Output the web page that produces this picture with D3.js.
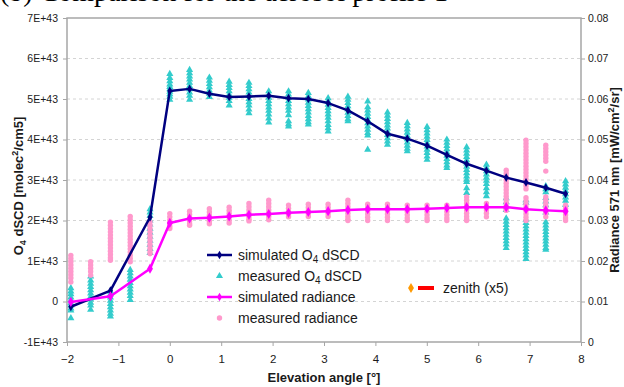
<!DOCTYPE html>
<html>
<head>
<meta charset="utf-8">
<script src="https://cdn.jsdelivr.net/npm/d3@7"></script>
<style>
  html, body { margin: 0; padding: 0; background: #fff; }
  svg { display: block; font-family: "Liberation Sans", Arial, sans-serif; }
</style>
</head>
<body>
<svg id="chart" width="624" height="387"></svg>
<script>
// Elevation angles of the measured clusters (degrees)
const measAngles = [-1.925, -1.54, -1.155, -0.77, -0.385, 0, 0.385, 0.77, 1.155, 1.54, 1.925,
  2.31, 2.695, 3.08, 3.465, 3.85, 4.235, 4.62, 5.005, 5.39, 5.775, 6.16, 6.545, 6.93, 7.315, 7.7];

// Elevation angles of the simulation
const simAngles = [-1.925, -1.155, -0.385, 0, 0.385, 0.77, 1.155, 1.54, 1.925, 2.31, 2.695,
  3.08, 3.465, 3.85, 4.235, 4.62, 5.005, 5.39, 5.775, 6.16, 6.545, 6.93, 7.315, 7.7];

// Simulated O4 dSCD, in units of 1E+43 molec²/cm5
const simO4 = [-0.13, 0.27, 2.08, 5.2, 5.25, 5.13, 5.05, 5.06, 5.08, 5.02, 5.0,
  4.9, 4.72, 4.45, 4.14, 4.02, 3.85, 3.62, 3.4, 3.23, 3.06, 2.94, 2.81, 2.66];

// Simulated radiance at 571 nm, mW/cm²/sr
const simRad = [0.0099, 0.0113, 0.0181, 0.0294, 0.0305, 0.0307, 0.031, 0.0314, 0.0316, 0.0319, 0.0321,
  0.0323, 0.0326, 0.0328, 0.0328, 0.0328, 0.0329, 0.0331, 0.0333, 0.0333, 0.0333, 0.0328, 0.0325, 0.0323];

// Measured O4 dSCD per elevation angle, in units of 1E+43 molec²/cm5
const measO4 = [
  [0.33, 0.25, 0.18, 0.1, 0.03, -0.04, -0.1, -0.17, -0.22, -0.41],
  [0.62, 0.52, 0.44, 0.36, 0.28, 0.2, 0.12, 0.05, -0.03, -0.1, -0.2],
  [0.25, 0.18, 0.1, 0.02, -0.06, -0.14, -0.22, -0.3, -0.37],
  [0.78, 0.7, 0.62, 0.54, 0.46, 0.38, 0.3, 0.22, 0.14, 0.04],
  [2.28, 2.2, 2.12, 2.0, 1.9, 1.8, 1.7, 1.6, 1.5, 1.4, 1.3, 1.2],
  [5.62, 5.52, 5.44, 5.36, 5.3, 5.24, 5.18, 5.12, 5.06, 4.98],
  [5.72, 5.64, 5.56, 5.48, 5.4, 5.32, 5.24, 5.16, 5.08, 4.98],
  [5.53, 5.45, 5.37, 5.29, 5.21, 5.13, 5.05],
  [5.43, 5.35, 5.27, 5.19, 5.11, 5.03, 4.95, 4.84],
  [5.4, 5.32, 5.24, 5.16, 5.08, 5.0, 4.92, 4.84, 4.74, 4.65],
  [5.19, 5.11, 5.03, 4.95, 4.87, 4.79, 4.71, 4.62, 4.52, 4.42],
  [5.19, 5.11, 5.03, 4.95, 4.87, 4.79, 4.71, 4.6, 4.45, 4.38, 4.32],
  [5.15, 5.07, 4.99, 4.91, 4.83, 4.75, 4.67, 4.58, 4.5, 4.43, 4.37],
  [5.02, 4.94, 4.86, 4.78, 4.7, 4.62, 4.54, 4.45, 4.36, 4.28, 4.2],
  [5.06, 4.98, 4.9, 4.82, 4.74, 4.66, 4.58, 4.5, 4.45],
  [4.94, 4.8, 4.72, 4.64, 4.56, 4.48, 4.4, 4.32, 4.24, 4.16, 4.1, 3.75],
  [4.67, 4.59, 4.51, 4.43, 4.35, 4.27, 4.19, 4.11, 4.03, 3.95, 3.87],
  [4.41, 4.33, 4.25, 4.17, 4.09, 4.01, 3.93, 3.85, 3.77, 3.71],
  [4.31, 4.23, 4.15, 4.07, 3.99, 3.91, 3.83, 3.75, 3.67, 3.58, 3.5],
  [4.0, 3.92, 3.84, 3.76, 3.68, 3.6, 3.52, 3.44, 3.36, 3.3],
  [3.81, 3.73, 3.65, 3.57, 3.49, 3.41, 3.33, 3.25, 3.17, 3.09, 3.01, 2.95, 2.8, 2.68],
  [3.38, 3.3, 3.22, 3.14, 3.06, 2.98, 2.9, 2.8, 2.7, 2.6],
  [2.55, 2.45, 2.35, 2.26, 2.05, 1.97, 1.89, 1.81, 1.73, 1.65, 1.57, 1.49, 1.41, 1.32],
  [2.5, 2.44, 2.02, 1.94, 1.86, 1.78, 1.7, 1.62, 1.54, 1.46, 1.38, 1.3, 1.22, 1.14, 1.05],
  [2.85, 2.77, 2.7, 2.56, 2.47, 2.38, 2.2, 1.96, 1.88, 1.8, 1.72, 1.64, 1.56, 1.48, 1.4, 1.32, 1.28],
  [2.97, 2.89, 2.81, 2.73, 2.65, 2.57, 2.49, 2.39]
];

// Measured radiance at 571 nm per elevation angle, mW/cm²/sr
const measRad = [
  [0.0214, 0.0206, 0.0198, 0.019, 0.0182, 0.0174, 0.0166, 0.0158, 0.0148],
  [0.0198, 0.019, 0.0182, 0.0174, 0.0165],
  [0.0296, 0.0288, 0.028, 0.0272, 0.0264, 0.0256, 0.0248, 0.024, 0.0232, 0.0224, 0.0216, 0.0208, 0.0202],
  [0.031, 0.0302, 0.0294, 0.0286, 0.0278, 0.027, 0.0262, 0.0254, 0.0246, 0.0238, 0.023, 0.0222, 0.0214, 0.0206, 0.0198],
  [0.0296, 0.0288, 0.028, 0.0272, 0.0264, 0.0256, 0.0248, 0.024, 0.0232, 0.0225, 0.0218],
  [0.0317, 0.0309, 0.0301, 0.0293, 0.0286, 0.028],
  [0.0323, 0.0315, 0.0307, 0.0299, 0.0292, 0.0288],
  [0.0329, 0.0321, 0.0313, 0.0305, 0.0298, 0.0292],
  [0.0333, 0.0325, 0.0317, 0.0309, 0.0301, 0.0294],
  [0.0342, 0.0334, 0.0326, 0.0318, 0.031, 0.0303, 0.0299],
  [0.035, 0.0342, 0.0334, 0.0326, 0.0318, 0.031, 0.0302],
  [0.0338, 0.033, 0.0322, 0.0315, 0.0309],
  [0.034, 0.0332, 0.0324, 0.0317, 0.031],
  [0.034, 0.0332, 0.0324, 0.0317, 0.031],
  [0.035, 0.0342, 0.0334, 0.0326, 0.0318, 0.031, 0.0303, 0.03],
  [0.034, 0.0332, 0.0324, 0.0316, 0.0308, 0.03],
  [0.034, 0.0332, 0.0324, 0.0316, 0.0308, 0.03],
  [0.0338, 0.033, 0.0322, 0.0314, 0.0306, 0.03],
  [0.0338, 0.033, 0.0322, 0.0314, 0.0306, 0.03],
  [0.0338, 0.033, 0.0322, 0.0314, 0.0306, 0.03],
  [0.0358, 0.035, 0.0342, 0.0334, 0.0326, 0.0318, 0.031, 0.0303, 0.03],
  [0.0342, 0.0334, 0.0326, 0.0318, 0.0309],
  [0.0424, 0.0416, 0.0408, 0.04, 0.0392, 0.0384, 0.0376, 0.0368, 0.036, 0.0352, 0.0344, 0.0336, 0.0328, 0.0325],
  [0.0498, 0.049, 0.0482, 0.0474, 0.0466, 0.0458, 0.045, 0.0442, 0.0434, 0.0426, 0.0418, 0.041, 0.0402, 0.0394, 0.0386, 0.0378,
   0.0356, 0.0348, 0.034, 0.0332, 0.0324, 0.0316, 0.0308, 0.03],
  [0.0486, 0.0478, 0.047, 0.0462, 0.0454, 0.0446, 0.0422, 0.0358, 0.035, 0.0342, 0.0334, 0.0326, 0.0318, 0.0309],
  [0.0338, 0.033, 0.0322, 0.0314, 0.0306, 0.03]
];

// Axis ticks
const xTicks = [-2, -1, 0, 1, 2, 3, 4, 5, 6, 7, 8];
const yLeftTicks = [-1, 0, 1, 2, 3, 4, 5, 6, 7];
const yRightTicks = [0, 0.01, 0.02, 0.03, 0.04, 0.05, 0.06, 0.07, 0.08];

const legendItems = ["simulated O4 dSCD", "measured O4 dSCD", "simulated radiance", "measured radiance"];

const COL = {
  navy: "#000080", cyan: "#33cccc", magenta: "#ff00ff", pink: "#ff99cc",
  orange: "#ff9900", red: "#ff0000", frame: "#a6a6a6", grid: "#d4d4d4", text: "#1a1a1a"
};

const svg = d3.select("#chart");
const plot = { left: 67, right: 581, top: 18, bottom: 342 };

const x = d3.scaleLinear().domain([-2, 8]).range([plot.left, plot.right]);
const yL = d3.scaleLinear().domain([-1, 7]).range([plot.bottom, plot.top]);
const yR = d3.scaleLinear().domain([0, 0.08]).range([plot.bottom, plot.top]);

// Panel heading, mostly above the top edge
svg.append("text")
  .attr("x", 0).attr("y", 1)
  .attr("font-family", "'Liberation Serif', 'Times New Roman', serif")
  .attr("font-size", 28)
  .attr("fill", "#000")
  .text("(b) Comparison for the aerosol profile 1");

// Horizontal dashed gridlines
svg.append("g").selectAll("line")
  .data(yLeftTicks.filter(d => d > -1 && d < 7))
  .join("line")
  .attr("x1", plot.left).attr("x2", plot.right)
  .attr("y1", d => yL(d)).attr("y2", d => yL(d))
  .attr("stroke", COL.grid).attr("stroke-width", 1)
  .attr("stroke-dasharray", "3,3");

// Plot frame
svg.append("rect")
  .attr("x", plot.left).attr("y", plot.top)
  .attr("width", plot.right - plot.left).attr("height", plot.bottom - plot.top)
  .attr("fill", "none").attr("stroke", COL.frame).attr("stroke-width", 1.5);

// Axes
function styleAxis(g) {
  g.select(".domain").remove();
  g.selectAll(".tick line").attr("stroke", COL.frame).attr("stroke-width", 1);
  g.selectAll(".tick text").attr("fill", COL.text).attr("font-size", 10.5)
    .attr("font-family", "'Liberation Sans', Arial, sans-serif");
}

svg.append("g")
  .attr("transform", `translate(0,${plot.bottom})`)
  .call(d3.axisBottom(x).tickValues(xTicks).tickSize(4).tickPadding(9).tickFormat(d3.format("d")))
  .call(g => { styleAxis(g); g.selectAll(".tick text").attr("font-size", 11.5); });

svg.append("g")
  .attr("transform", `translate(${plot.left},0)`)
  .call(d3.axisLeft(yL).tickValues(yLeftTicks).tickSize(4).tickPadding(5)
    .tickFormat(d => d === 0 ? "0" : `${d}E+43`))
  .call(styleAxis);

svg.append("g")
  .attr("transform", `translate(${plot.right},0)`)
  .call(d3.axisRight(yR).tickValues(yRightTicks).tickSize(4).tickPadding(3)
    .tickFormat(d => d === 0 ? "0" : d3.format(".2f")(d)))
  .call(styleAxis);

// Axis titles
svg.append("text")
  .attr("x", 324).attr("y", 382)
  .attr("text-anchor", "middle").attr("font-size", 13).attr("font-weight", "bold")
  .attr("fill", COL.text)
  .text("Elevation angle [°]");

const lt = svg.append("text")
  .attr("transform", "translate(23,186) rotate(-90)")
  .attr("text-anchor", "middle").attr("font-size", 13).attr("font-weight", "bold")
  .attr("fill", COL.text);
lt.append("tspan").text("O");
lt.append("tspan").attr("font-size", 9).attr("dy", 3).text("4");
lt.append("tspan").attr("dy", -3).text(" dSCD [molec");
lt.append("tspan").attr("font-size", 9).attr("dy", -5).text("2");
lt.append("tspan").attr("dy", 5).text("/cm5]");

const rt = svg.append("text")
  .attr("transform", "translate(619,180) rotate(-90)")
  .attr("text-anchor", "middle").attr("font-size", 13).attr("font-weight", "bold")
  .attr("fill", COL.text);
rt.append("tspan").text("Radiance 571 nm [mW/cm");
rt.append("tspan").attr("font-size", 9).attr("dy", -5).text("2");
rt.append("tspan").attr("dy", 5).text("/sr]");

// Marker shapes
const triangle = d3.symbol().type(d3.symbolTriangle).size(22);
const diamond = d3.symbol().type(d3.symbolDiamond).size(22);

const measO4Pts = measAngles.flatMap((a, i) => measO4[i].map(v => ({ a, v })));
const measRadPts = measAngles.flatMap((a, i) => measRad[i].map(v => ({ a, v })));

// Measured O4 dSCD
svg.append("g").selectAll("path")
  .data(measO4Pts)
  .join("path")
  .attr("d", triangle)
  .attr("transform", d => `translate(${x(d.a)},${yL(d.v)})`)
  .attr("fill", COL.cyan);

// Measured radiance
svg.append("g").selectAll("circle")
  .data(measRadPts)
  .join("circle")
  .attr("cx", d => x(d.a)).attr("cy", d => yR(d.v)).attr("r", 2.7)
  .attr("fill", COL.pink);

// Simulated O4 dSCD line
const simO4Pts = simAngles.map((a, i) => ({ a, v: simO4[i] }));
svg.append("path")
  .datum(simO4Pts)
  .attr("d", d3.line().x(d => x(d.a)).y(d => yL(d.v)))
  .attr("fill", "none").attr("stroke", COL.navy).attr("stroke-width", 2.5)
  .attr("stroke-linejoin", "round");
svg.append("g").selectAll("path")
  .data(simO4Pts)
  .join("path")
  .attr("d", diamond)
  .attr("transform", d => `translate(${x(d.a)},${yL(d.v)})`)
  .attr("fill", COL.navy);

// Simulated radiance line
const simRadPts = simAngles.map((a, i) => ({ a, v: simRad[i] }));
svg.append("path")
  .datum(simRadPts)
  .attr("d", d3.line().x(d => x(d.a)).y(d => yR(d.v)))
  .attr("fill", "none").attr("stroke", COL.magenta).attr("stroke-width", 2.5)
  .attr("stroke-linejoin", "round");
svg.append("g").selectAll("path")
  .data(simRadPts)
  .join("path")
  .attr("d", d3.symbol().type(d3.symbolDiamond).size(30))
  .attr("transform", d => `translate(${x(d.a)},${yR(d.v)})`)
  .attr("fill", COL.magenta);

// Legend
const legend = svg.append("g").attr("font-size", 14).attr("fill", COL.text);
const rowY = [255, 276, 297, 318];
const lx0 = 207, lx1 = 232, tx = 238;

// simulated O4 dSCD
legend.append("line").attr("x1", lx0).attr("x2", lx1).attr("y1", rowY[0]).attr("y2", rowY[0])
  .attr("stroke", COL.navy).attr("stroke-width", 2.5);
legend.append("path").attr("d", diamond).attr("transform", `translate(${(lx0 + lx1) / 2},${rowY[0]})`)
  .attr("fill", COL.navy);
// measured O4 dSCD
legend.append("path").attr("d", triangle).attr("transform", `translate(${(lx0 + lx1) / 2},${rowY[1]})`)
  .attr("fill", COL.cyan);
// simulated radiance
legend.append("line").attr("x1", lx0).attr("x2", lx1).attr("y1", rowY[2]).attr("y2", rowY[2])
  .attr("stroke", COL.magenta).attr("stroke-width", 2.5);
legend.append("path").attr("d", diamond).attr("transform", `translate(${(lx0 + lx1) / 2},${rowY[2]})`)
  .attr("fill", COL.magenta);
// measured radiance
legend.append("circle").attr("cx", (lx0 + lx1) / 2).attr("cy", rowY[3]).attr("r", 2.7)
  .attr("fill", COL.pink);

legendItems.forEach((label, i) => {
  const t = legend.append("text").attr("x", tx).attr("y", rowY[i] + 5).attr("fill", COL.text);
  if (label.includes("O4")) {
    const [pre, post] = label.split("O4");
    t.append("tspan").text(pre + "O");
    t.append("tspan").attr("font-size", 10).attr("dy", 3).text("4");
    t.append("tspan").attr("dy", -3).text(post);
  } else {
    t.text(label);
  }
});

// Zenith entry
legend.append("path").attr("d", d3.symbol().type(d3.symbolDiamond).size(30))
  .attr("transform", "translate(411,288)").attr("fill", COL.orange);
legend.append("line").attr("x1", 418).attr("x2", 434).attr("y1", 288).attr("y2", 288)
  .attr("stroke", COL.red).attr("stroke-width", 4);
legend.append("text").attr("x", 443).attr("y", 293).attr("fill", COL.text).text("zenith (x5)");
</script>
</body>
</html>
